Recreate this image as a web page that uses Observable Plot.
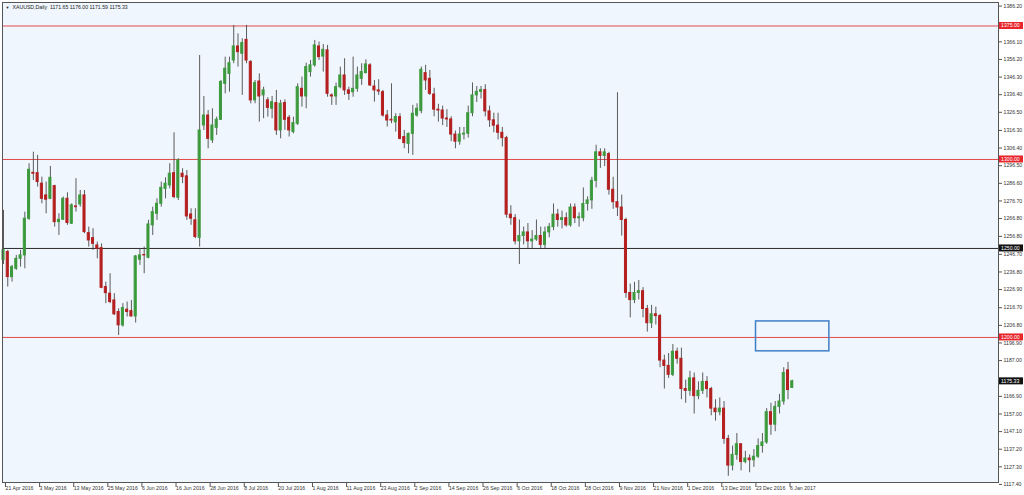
<!DOCTYPE html>
<html><head><meta charset="utf-8">
<script src="https://cdn.jsdelivr.net/npm/d3@7"></script>
<script src="https://cdn.jsdelivr.net/npm/@observablehq/plot@0.6"></script>
<style>html,body{margin:0;padding:0;background:#fff;overflow:hidden}</style>
</head><body><div id="chart"></div>
<script>
// ---- data (daily candles, index 0 = 21 Apr 2016) ----
const opens = [1243.5,1248.0,1233.9,1238.6,1244.2,1246.1,1266.7,1292.5,1292.3,1286.4,1279.8,1277.9,1285.0,1264.8,1266.1,1277.9,1263.9,1273.6,1274.7,1279.8,
1258.6,1255.8,1251.7,1250.2,1228.3,1224.6,1220.8,1214.3,1206.8,1215.6,1214.8,1211.8,1243.7,1246.3,1244.8,1263.0,1269.5,1275.1,1283.5,1285.4,
1292.3,1278.5,1292.0,1290.5,1269.1,1265.8,1256.0,1319.1,1324.7,1310.7,1317.8,1322.3,1342.5,1348.1,1355.6,1363.5,1359.4,1367.2,1354.7,1333.2,
1343.8,1336.0,1333.2,1328.5,1331.7,1316.3,1331.7,1323.4,1315.4,1320.1,1339.7,1335.4,1349.1,1352.9,1363.5,1357.8,1361.3,1336.0,1335.4,1340.6,
1347.2,1338.8,1337.8,1339.7,1345.3,1348.5,1352.9,1341.0,1338.8,1337.8,1324.7,1322.3,1320.9,1323.8,1312.6,1308.8,1314.4,1324.7,1327.2,1348.5,
1345.3,1336.5,1328.0,1327.5,1323.0,1322.5,1314.0,1310.0,1314.0,1314.5,1326.0,1336.0,1338.0,1339.0,1327.0,1322.0,1319.0,1315.0,1312.0,1269.0,
1267.0,1254.0,1257.0,1259.0,1254.0,1255.0,1257.0,1252.0,1259.0,1262.0,1269.0,1266.0,1267.0,1263.0,1273.0,1267.0,1267.0,1275.0,1277.0,1288.0,
1304.0,1302.0,1303.0,1283.0,1276.0,1273.0,1266.0,1225.0,1221.0,1225.0,1226.0,1216.0,1208.0,1213.0,1212.0,1187.0,1184.0,1179.0,1192.0,1188.0,
1171.0,1170.0,1177.0,1167.0,1170.0,1175.0,1171.0,1160.0,1158.0,1160.0,1143.0,1128.0,1134.0,1140.0,1130.0,1132.0,1131.0,1133.0,1139.0,1141.0,
1158.0,1151.0,1161.0,1164.0,1181.5,1171.65];
const highs = [1271.4,1248.9,1240.5,1246.1,1248.9,1270.4,1297.6,1304.1,1302.3,1290.1,1287.3,1296.1,1285.5,1269.5,1278.9,1281.3,1275.1,1289.2,1282.6,1282.6,
1262.0,1261.1,1253.6,1252.6,1231.1,1235.8,1224.6,1216.1,1219.0,1219.9,1220.8,1246.1,1249.8,1250.8,1265.8,1273.2,1277.9,1287.3,1289.7,1297.6,
1315.0,1300.4,1294.8,1293.8,1272.3,1272.3,1358.4,1335.4,1327.5,1328.5,1323.8,1344.4,1357.5,1357.5,1375.3,1370.6,1367.8,1375.3,1355.6,1344.4,
1348.1,1340.6,1334.7,1335.4,1338.8,1333.2,1333.5,1324.7,1323.8,1342.5,1346.3,1354.1,1355.6,1366.9,1366.0,1364.6,1364.1,1336.9,1342.9,1351.9,
1356.6,1340.6,1357.5,1351.9,1353.8,1356.0,1353.8,1344.4,1344.8,1338.8,1327.5,1342.5,1325.7,1325.7,1316.3,1314.8,1330.4,1331.3,1351.9,1352.9,
1350.0,1340.0,1331.0,1330.0,1328.0,1324.0,1316.0,1318.0,1318.0,1330.0,1343.0,1341.0,1341.0,1342.0,1330.0,1326.0,1326.0,1318.0,1313.0,1274.0,
1269.0,1266.0,1262.0,1264.0,1260.0,1266.0,1262.0,1262.0,1264.0,1275.0,1272.0,1271.0,1270.0,1275.0,1275.0,1270.0,1284.0,1279.0,1290.0,1308.0,
1306.0,1306.0,1304.0,1290.0,1337.5,1280.0,1267.0,1230.0,1231.0,1232.0,1228.0,1218.0,1218.0,1217.0,1213.0,1190.0,1191.0,1196.0,1194.0,1194.0,
1176.0,1181.0,1180.0,1175.0,1180.0,1178.0,1172.0,1165.0,1166.0,1164.0,1145.0,1139.0,1146.0,1140.0,1136.0,1134.0,1137.0,1143.0,1146.0,1160.0,
1163.0,1164.0,1168.0,1183.0,1186.0,1176.00];
const lows = [1241.0,1228.3,1231.1,1237.7,1239.5,1238.6,1265.8,1288.2,1284.5,1275.1,1269.5,1277.4,1262.0,1257.3,1265.8,1263.0,1263.5,1270.4,1273.2,1258.3,
1250.8,1248.9,1244.2,1227.4,1219.0,1219.0,1212.4,1201.1,1205.8,1211.5,1211.5,1208.1,1240.5,1235.8,1244.2,1257.3,1265.8,1273.2,1277.9,1283.5,
1277.9,1277.0,1286.4,1265.8,1263.0,1255.5,1250.8,1316.3,1306.0,1309.0,1313.5,1321.9,1336.9,1337.8,1353.8,1351.9,1336.0,1353.8,1331.3,1331.3,
1321.0,1322.9,1323.8,1322.9,1313.5,1311.6,1316.3,1312.6,1314.4,1319.1,1329.4,1328.5,1346.3,1351.9,1355.6,1349.1,1335.0,1330.4,1330.4,1339.7,
1336.0,1333.2,1335.0,1337.8,1341.6,1348.1,1341.0,1332.2,1336.0,1323.8,1318.2,1320.1,1315.4,1311.0,1306.0,1303.2,1302.3,1323.8,1325.7,1338.8,
1336.0,1324.0,1321.0,1319.0,1318.0,1310.0,1306.0,1308.0,1311.0,1312.0,1324.0,1332.0,1334.0,1324.0,1318.0,1315.0,1311.0,1307.0,1267.0,1263.0,
1252.0,1241.0,1252.0,1250.0,1250.0,1254.0,1250.0,1250.0,1256.0,1260.0,1262.0,1261.0,1262.0,1262.0,1264.0,1262.0,1265.0,1271.0,1272.0,1284.0,
1295.0,1296.0,1280.0,1272.0,1268.0,1257.0,1222.0,1211.0,1219.0,1221.0,1211.0,1203.0,1205.0,1207.0,1183.0,1171.0,1177.0,1178.0,1185.0,1165.0,
1163.0,1167.0,1157.0,1165.0,1168.0,1166.0,1156.0,1153.0,1156.0,1140.0,1122.0,1125.0,1131.0,1125.0,1129.0,1124.0,1127.0,1132.0,1135.0,1140.0,
1145.0,1147.0,1157.0,1162.0,1165.0,1171.59];
const closes = [1249.0,1233.9,1239.5,1244.2,1246.1,1266.7,1294.2,1292.0,1287.3,1277.9,1277.4,1289.7,1264.8,1266.1,1277.9,1264.3,1274.2,1273.2,1279.8,1259.2,
1254.5,1252.6,1249.8,1227.9,1224.9,1219.9,1213.0,1206.8,1216.5,1214.3,1211.8,1245.5,1246.1,1246.1,1263.5,1270.4,1275.1,1284.1,1286.4,1292.0,
1278.9,1299.5,1290.1,1268.0,1266.7,1256.4,1316.3,1324.7,1311.6,1319.1,1322.3,1343.5,1351.0,1354.1,1363.5,1360.3,1365.4,1355.6,1333.2,1342.9,
1335.4,1338.8,1329.0,1332.2,1316.3,1331.3,1322.3,1316.3,1320.4,1340.6,1335.4,1351.9,1352.9,1364.1,1357.5,1361.6,1336.9,1335.4,1340.6,1347.2,
1338.8,1336.9,1339.7,1347.2,1349.1,1353.4,1341.6,1338.8,1338.2,1324.7,1321.9,1321.9,1323.8,1311.6,1309.2,1314.4,1325.7,1328.5,1350.4,1344.4,
1336.9,1328.0,1327.5,1323.0,1322.5,1314.0,1310.0,1314.0,1314.5,1326.0,1336.0,1338.0,1339.0,1327.0,1322.0,1319.0,1315.0,1312.0,1269.0,1267.0,
1254.0,1257.0,1259.0,1254.0,1255.0,1257.0,1252.0,1259.0,1262.0,1269.0,1266.0,1267.0,1263.0,1273.0,1267.0,1267.5,1275.0,1277.0,1288.0,1304.0,
1302.0,1304.0,1283.0,1276.0,1273.0,1266.0,1225.0,1221.0,1225.0,1226.0,1216.0,1208.0,1213.0,1212.0,1187.0,1184.0,1179.0,1192.0,1188.0,1171.0,
1170.0,1177.0,1167.0,1170.0,1175.0,1171.0,1160.0,1158.0,1160.0,1143.0,1128.0,1134.0,1140.0,1130.0,1132.0,1131.0,1133.0,1139.0,1141.0,1158.0,
1151.0,1161.0,1164.0,1180.0,1170.5,1175.33];

const tickIndex = [0,8,16,24,32,40,48,56,64,72,80,88,96,104,112,120,128,136,144,152,160,168,176,184];
const tickLabels = ["21 Apr 2016","3 May 2016","13 May 2016","25 May 2016","6 Jun 2016","16 Jun 2016","28 Jun 2016","8 Jul 2016","20 Jul 2016","1 Aug 2016","11 Aug 2016","23 Aug 2016","2 Sep 2016","14 Sep 2016","26 Sep 2016","6 Oct 2016","18 Oct 2016","28 Oct 2016","9 Nov 2016","21 Nov 2016","1 Dec 2016","13 Dec 2016","23 Dec 2016","6 Jan 2017"];
const priceTicks = [1386.20,1366.10,1356.20,1346.30,1336.40,1326.50,1316.30,1306.40,1296.50,1286.60,1276.70,1266.80,1256.80,1246.70,1236.80,1226.90,1216.70,1206.80,1196.90,1187.00,1166.90,1157.00,1147.10,1137.20,1127.30,1117.40];

const redLevels = [1375.00, 1300.00, 1200.00];
const blackLevels = [1250.00];
const tagPrices = [1375.00, 1300.00, 1250.00, 1200.00, 1175.33];
const tagFills = ["#e8262b", "#e8262b", "#111111", "#e8262b", "#111111"];
const zoneIndex = [176.5, 193.7];
const zonePrice = [1192.2, 1209.0];
const titleText = "XAUUSD,Daily  1171.65 1176.00 1171.59 1175.33";

// ---- build ----
const candles = opens.map((o, i) => ({i, o, h: highs[i], l: lows[i], c: closes[i]}));
const zone = [{x1: zoneIndex[0], x2: zoneIndex[1], y1: zonePrice[0], y2: zonePrice[1]}];
const up = "#3c9a3c", down = "#b41f1f";
const fmt = d3.format(".2f");

function tags(index, scales, values, dims) {
  const g = d3.create("svg:g").attr("text-anchor", "start");
  const x0 = dims.width - dims.marginRight;
  tagPrices.forEach((p, k) => {
    const y = scales.y(p);
    g.append("rect").attr("x", x0 + 1).attr("y", y - 3.5).attr("width", 24).attr("height", 7).attr("fill", tagFills[k]);
    g.append("text").attr("x", x0 + 3).attr("y", y).attr("dy", "0.35em").attr("fill", "#fff").attr("text-anchor", "start")
      .attr("font-size", 5.2).attr("font-family", "Liberation Sans, Arial, sans-serif").text(fmt(p));
  });
  return g.node();
}

const chart = Plot.plot({
  width: 1024, height: 495,
  marginLeft: 2, marginRight: 26, marginTop: 2, marginBottom: 13,
  style: {fontFamily: "Liberation Sans, Arial, sans-serif", fontSize: "5.2px", color: "#222", background: "#fff"},
  x: {type: "linear", domain: [0, 184], range: [3, 787.5]},
  y: {domain: [1118.5, 1388.2]},
  marks: [
    Plot.frame({fill: "#f0f6fd", stroke: "none"}),
    Plot.ruleY(redLevels, {stroke: "#e34a4a", strokeWidth: 1}),
    Plot.ruleY(blackLevels, {stroke: "#2a2a2a", strokeWidth: 1}),
    Plot.rect(zone, {x1: "x1", x2: "x2", y1: "y1", y2: "y2", fill: "none", stroke: "#3f7fc9", strokeWidth: 1.5}),
    Plot.ruleX(candles, {x: "i", y1: "l", y2: "h", stroke: "#4a4a4a", strokeWidth: 0.9}),
    Plot.rect(candles, {x1: d => d.i - 0.24, x2: d => d.i + 0.24, y1: "o", y2: "c",
      fill: d => d.c >= d.o ? up : down, stroke: d => d.c >= d.o ? up : down, strokeWidth: 1}),
    Plot.frame({stroke: "#555", strokeWidth: 1}),
    Plot.axisY({anchor: "right", ticks: priceTicks, tickFormat: fmt, tickSize: 3, tickPadding: 2, stroke: "#555", fill: "#333"}),
    Plot.axisX({ticks: tickIndex, tickFormat: i => tickLabels[tickIndex.indexOf(i)], textAnchor: "start", tickSize: 5, tickPadding: -1, dx: 2, stroke: "#555", fill: "#333"}),
    tags,
    Plot.text(["▼"], {frameAnchor: "top-left", dx: 3, dy: 4, fontSize: 4, fill: "#222"}),
    Plot.text([titleText], {frameAnchor: "top-left", dx: 10, dy: 3, fontSize: 5.2, fill: "#222"})
  ]
});
document.getElementById("chart").appendChild(chart);
</script>
</body></html>
